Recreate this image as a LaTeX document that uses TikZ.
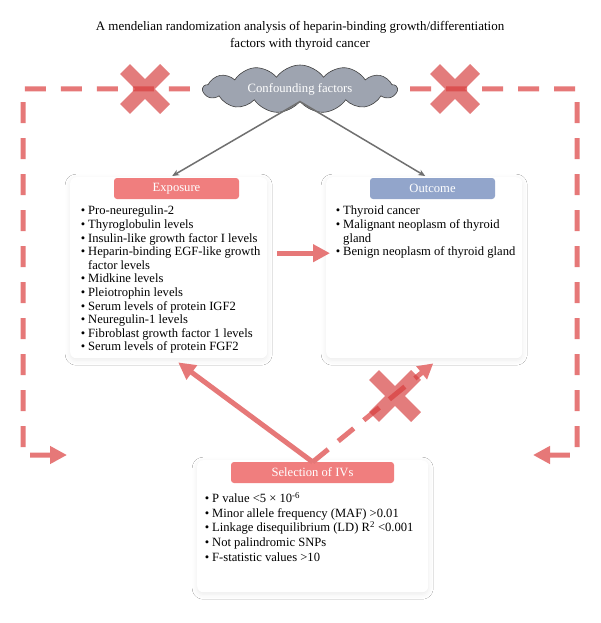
\documentclass[tikz,border=0pt]{standalone}
\usepackage{fontspec}
\setmainfont{Liberation Serif}
\usetikzlibrary{arrows.meta,shapes.symbols,shadows.blur}
\definecolor{linered}{RGB}{230,120,120}
\definecolor{headred}{RGB}{240,126,126}
\definecolor{crossred}{RGB}{215,62,62}
\definecolor{outblue}{RGB}{146,165,203}
\definecolor{cloudgray}{RGB}{158,164,176}
\definecolor{arrowgray}{RGB}{112,112,112}
\newenvironment{blist}[1]{\begin{minipage}{#1}\begin{list}{\textbullet}{\setlength{\leftmargin}{10pt}\setlength{\labelwidth}{5pt}\setlength{\labelsep}{3pt}\setlength{\itemsep}{0pt}\setlength{\parsep}{0pt}\setlength{\topsep}{0pt}\setlength{\partopsep}{0pt}\setlength{\itemindent}{0pt}}}{\end{list}\end{minipage}}
\begin{document}
\begin{tikzpicture}[x=1pt,y=-1pt,
  panel/.style={draw=none, fill=white, rounded corners=6pt, anchor=north west,
    blur shadow={shadow blur radius=5pt, shadow xshift=0pt, shadow yshift=-2pt, shadow opacity=8}},
  head/.style={rounded corners=3pt, text=white, minimum height=21, inner sep=0pt,
    font=\fontsize{12.6}{14}\selectfont},
  items/.style={anchor=north west, inner sep=0pt, font=\fontsize{12.6}{13.6}\selectfont},
  dashline/.style={draw=linered, line width=5pt, dash pattern=on 21pt off 15pt, line join=miter},
  thickarrow/.style={draw=linered, line width=5pt, -{Triangle[length=17pt,width=17pt]}},
  dasharrow/.style={draw=linered, line width=5pt, dash pattern=on 20pt off 13pt, -{Triangle[length=15pt,width=16pt]}},
  grayarrow/.style={draw=arrowgray, line width=1.5pt, -{Stealth[length=7pt,width=6pt]}},
  crossbar/.style={draw=crossred, draw opacity=0.68, line width=14pt}
]
\useasboundingbox (0,0) rectangle (600,623);
\fill[white] (0,0) rectangle (600,623);

\node[font=\fontsize{13}{17}\selectfont, align=center] (title) at (300,36)
  {A mendelian randomization analysis of heparin-binding growth/differentiation\\factors with thyroid cancer};

% cloud
\node[cloud, cloud puffs=13, cloud puff arc=110, cloud ignores aspect, minimum width=194, minimum height=48,
  fill=cloudgray, draw=black!75, line width=0.6pt, text=white, inner sep=0pt,
  font=\fontsize{12.7}{14}\selectfont] (conf) at (300,89) {Confounding factors};

% panels
\node[panel, minimum width=197, minimum height=181] (exp) at (70,177) {};
\node[panel, minimum width=196, minimum height=181] (out) at (326,177) {};
\node[panel, minimum width=231, minimum height=132] (sel) at (197,460) {};

\node[head, fill=headred, minimum width=125] (exph) at (176.5,188.5) {Exposure};
\node[head, fill=outblue, minimum width=125] (outh) at (432.5,188.5) {Outcome};
\node[head, fill=headred, minimum width=163] (selh) at (312.5,472.5) {Selection of IVs};

\node[items] (expl) at (78,206) {\begin{blist}{190pt}
\item Pro-neuregulin-2
\item Thyroglobulin levels
\item Insulin-like growth factor I levels
\item Heparin-binding EGF-like growth\newline factor levels
\item Midkine levels
\item Pleiotrophin levels
\item Serum levels of protein IGF2
\item Neuregulin-1 levels
\item Fibroblast growth factor 1 levels
\item Serum levels of protein FGF2
\end{blist}};

\node[items] (outl) at (333,206) {\begin{blist}{186pt}
\item Thyroid cancer
\item Malignant neoplasm of thyroid\newline gland
\item Benign neoplasm of thyroid gland
\end{blist}};

\node[items, font=\fontsize{12.6}{14.7}\selectfont] (sell) at (202,492) {\begin{blist}{222pt}
\item P value <5 × 10\textsuperscript{-6}
\item Minor allele frequency (MAF) >0.01
\item Linkage disequilibrium (LD) R\textsuperscript{2} <0.001
\item Not palindromic SNPs
\item F-statistic values >10
\end{blist}};

% dashed confounder paths
\coordinate (lend) at (67,455);
\coordinate (lc2) at (23,455);
\coordinate (lc1) at (23,89);
\coordinate (rend) at (533,455);
\coordinate (rc2) at (577,455);
\coordinate (rc1) at (577,89);
\draw[dashline, {Triangle[length=17pt,width=17pt]}-] (lend) -- (lc2) -- (lc1) -- (conf.west);
\draw[dashline, {Triangle[length=17pt,width=17pt]}-] (rend) -- (rc2) -- (rc1) -- (conf.east);

% gray arrows
\draw[grayarrow] (conf.south) -- ([xshift=3.5pt,yshift=1pt]exp.north);
\draw[grayarrow] (conf.south) -- ([xshift=1pt,yshift=1pt]out.north);

% main arrows
\draw[thickarrow] ([xshift=10pt,yshift=14.5pt]exp.east) -- ([xshift=4pt,yshift=14.5pt]out.west);
\draw[thickarrow] ([yshift=-2pt]sel.north) -- ([xshift=9.5pt,yshift=-4pt]exp.south);
\draw[dasharrow] ([yshift=-2pt]sel.north) -- ([xshift=9pt,yshift=-5pt]out.south);

% crosses
\draw[crossbar] (125,69) -- (165,109) (125,109) -- (165,69);
\draw[crossbar] (435,69) -- (475,109) (435,109) -- (475,69);
\draw[crossbar] (374,375) -- (416,417) (374,417) -- (416,375);
\end{tikzpicture}
\end{document}
